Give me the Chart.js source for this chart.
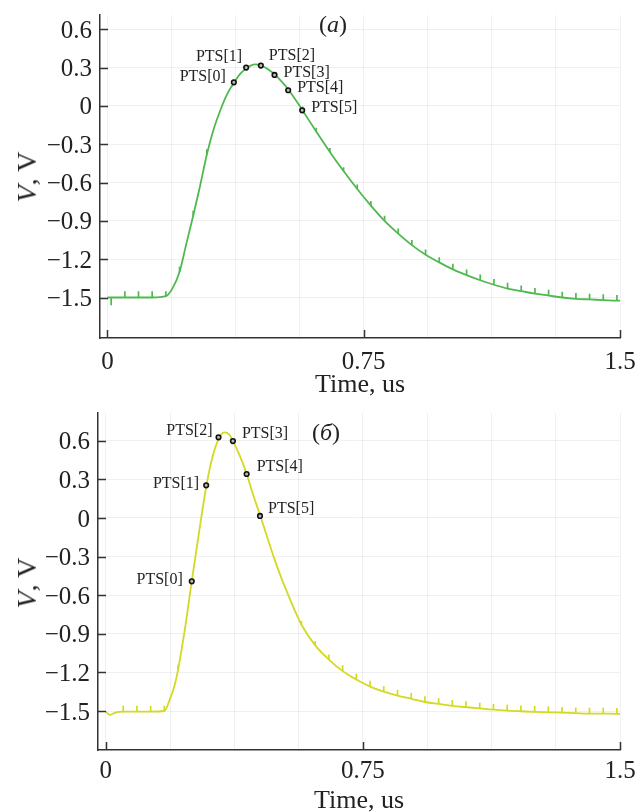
<!DOCTYPE html>
<html>
<head>
<meta charset="utf-8">
<title>PTS pulses</title>
<script src="https://cdn.jsdelivr.net/npm/chart.js@4.4.1/dist/chart.umd.min.js"></script>
<style>
  body { margin: 0; background: #fff; }
  #wrap { position: relative; width: 638px; height: 812px; overflow: hidden; }
  canvas { position: absolute; left: 0; }
  .lbl { position: absolute; font-family: 'Liberation Serif', serif; color: #222; white-space: nowrap; line-height: 1; }
  .ytitle { font-size: 28px; transform: translate(-50%, -50%) rotate(-90deg); }
  .panel { font-size: 24px; transform: translate(-50%, -50%); }
</style>
</head>
<body>
<div id="wrap">
  <canvas id="chartA" width="638" height="400" style="top:0"></canvas>
  <canvas id="chartB" width="638" height="412" style="top:400px"></canvas>
  <div class="lbl ytitle" style="left:27px;top:177px"><i>V</i>, V</div>
  <div class="lbl ytitle" style="left:27px;top:583px"><i>V</i>, V</div>
  <div class="lbl panel" style="left:333px;top:24px">(<i>а</i>)</div>
  <div class="lbl panel" style="left:326px;top:432px">(<i>б</i>)</div>
</div>

<script>
// ---- data ----
// panel (a), green trace
const timeA = [0, 0.011, 0.03, 0.051, 0.091, 0.131, 0.171, 0.19, 0.211, 0.23,
  0.251, 0.27, 0.291, 0.31, 0.331, 0.35, 0.371, 0.39, 0.411, 0.43,
  0.451, 0.47, 0.491, 0.51, 0.531, 0.55, 0.571, 0.611, 0.651, 0.691,
  0.731, 0.771, 0.811, 0.851, 0.891, 0.931, 0.971, 1.011, 1.051, 1.091,
  1.131, 1.171, 1.211, 1.251, 1.291, 1.331, 1.371, 1.411, 1.451, 1.491, 1.5];
const voltA = [-1.50, -1.50, -1.50, -1.50, -1.50, -1.50, -1.49, -1.43, -1.30, -1.09,
  -0.86, -0.64, -0.38, -0.19, -0.03, 0.09, 0.185, 0.255, 0.303, 0.326,
  0.316, 0.287, 0.243, 0.19, 0.123, 0.05, -0.035, -0.20, -0.36, -0.51,
  -0.65, -0.78, -0.90, -1.00, -1.09, -1.165, -1.225, -1.28, -1.325, -1.365,
  -1.40, -1.43, -1.45, -1.47, -1.485, -1.50, -1.51, -1.515, -1.52, -1.525, -1.525];
// little glitch spikes on the trace (V), 0 = none
const spikeA = [0, -0.06, 0, 0.05, 0.05, 0.05, 0.04, 0, 0.04, 0,
  0.04, 0, 0.04, 0, 0, 0, 0, 0, 0, 0,
  0, 0, 0, 0, 0, 0, 0.03, 0.03, 0.03, 0.03,
  0.035, 0.035, 0.04, 0.04, 0.04, 0.04, 0.04, 0.045, 0.045, 0.045,
  0.045, 0.045, 0.045, 0.045, 0.045, 0.045, 0.045, 0.045, 0.045, 0.045, 0];
const ptsTimeA = [0.370, 0.406, 0.449, 0.489, 0.529, 0.570];
const ptsVoltA = [0.185, 0.300, 0.316, 0.243, 0.123, -0.034];

// panel (б), yellow trace
const timeB = [0, 0.012, 0.03, 0.051, 0.091, 0.131, 0.171, 0.187, 0.201, 0.211,
  0.23, 0.251, 0.27, 0.291, 0.31, 0.331, 0.347, 0.36, 0.371, 0.39,
  0.411, 0.43, 0.451, 0.47, 0.491, 0.51, 0.531, 0.55, 0.571, 0.611,
  0.651, 0.691, 0.731, 0.771, 0.811, 0.851, 0.891, 0.931, 0.971, 1.011,
  1.051, 1.091, 1.131, 1.171, 1.211, 1.251, 1.291, 1.331, 1.371, 1.411,
  1.451, 1.491, 1.5];
const voltB = [-1.505, -1.53, -1.51, -1.505, -1.505, -1.505, -1.50, -1.41, -1.30, -1.18,
  -0.88, -0.49, -0.15, 0.21, 0.46, 0.625, 0.666, 0.65, 0.60, 0.49,
  0.342, 0.18, 0.016, -0.14, -0.31, -0.45, -0.59, -0.71, -0.83, -0.99,
  -1.10, -1.19, -1.255, -1.31, -1.35, -1.38, -1.405, -1.43, -1.445, -1.46,
  -1.47, -1.48, -1.49, -1.497, -1.502, -1.507, -1.51, -1.513, -1.517, -1.52,
  -1.52, -1.522, -1.522];
const spikeB = [0, 0, 0, 0.045, 0.045, 0.045, 0.04, 0, 0, 0.04,
  0, 0, 0, 0, 0, 0, 0, 0, 0, 0,
  0, 0, 0, 0, 0, 0, 0, 0, 0.03, 0.035,
  0.04, 0.045, 0.045, 0.045, 0.045, 0.045, 0.045, 0.045, 0.045, 0.045,
  0.045, 0.045, 0.045, 0.045, 0.045, 0.045, 0.045, 0.045, 0.045, 0.045,
  0.045, 0.045, 0];
const ptsTimeB = [0.251, 0.293, 0.329, 0.371, 0.411, 0.450];
const ptsVoltB = [-0.492, 0.254, 0.627, 0.598, 0.342, 0.016];

const ptsNames = ['PTS[0]', 'PTS[1]', 'PTS[2]', 'PTS[3]', 'PTS[4]', 'PTS[5]'];

// axis ticks
const yTicks = [-1.5, -1.2, -0.9, -0.6, -0.3, 0, 0.3, 0.6];
const xTicks = [0, 0.75, 1.5];
const xGrid = [0, 0.1875, 0.375, 0.5625, 0.75, 0.9375, 1.125, 1.3125, 1.5];

const FONT = "'Liberation Serif', 'Times New Roman', serif";
const INK = '#222';

//Short tick marks drawn inside the plot area
const innerTicks = {
  id: 'innerTicks',
  afterDraw(chart, args, opts) {
    const { ctx, chartArea, scales } = chart;
    ctx.save();
    ctx.strokeStyle = '#333';
    ctx.lineWidth = 1.5;
    ctx.beginPath();
    opts.yValues.forEach(v => {
      const y = Math.round(scales.y.getPixelForValue(v)) + 0.5;
      ctx.moveTo(chartArea.left, y);
      ctx.lineTo(chartArea.left + 8, y);
    });
    opts.xValues.forEach(v => {
      const x = Math.round(scales.x.getPixelForValue(v)) + 0.5;
      ctx.moveTo(x, chartArea.bottom);
      ctx.lineTo(x, chartArea.bottom - 8);
    });
    ctx.stroke();
    ctx.restore();
  }
};

//PTS[i] captions next to the marker points
const ptsLabels = {
  id: 'ptsLabels',
  afterDatasetsDraw(chart, args, opts) {
    const ctx = chart.ctx;
    const meta = chart.getDatasetMeta(0);
    ctx.save();
    ctx.font = '16px ' + FONT;
    ctx.fillStyle = INK;
    ctx.textBaseline = 'middle';
    meta.data.forEach((pt, i) => {
      const [dx, dy, align] = opts.offsets[i];
      ctx.textAlign = align;
      ctx.fillText(opts.names[i], pt.x + dx, pt.y + dy);
    });
    ctx.restore();
  }
};

function curvePoints(t, v) {
  return t.map((x, i) => ({ x: x, y: v[i] }));
}

function spikePoints(t, v, s) {
  const out = [];
  t.forEach((x, i) => {
    if (s[i] !== 0) {
      out.push({ x: x, y: v[i] }, { x: x, y: v[i] + s[i] }, { x: x, y: null });
    }
  });
  return out;
}

function fmtY(v) {
  if (v === 0) return '0';
  return (v < 0 ? '\u2212' : '') + Math.abs(v).toFixed(1);
}

function createChart(id, cfg) {
  const ctx = document.getElementById(id).getContext('2d');
  /* global Chart */
  return new Chart(ctx, {
    type: 'scatter',
    data: {
      datasets: [
        {
          data: curvePoints(cfg.ptsT, cfg.ptsV),
          showLine: false,
          pointRadius: 2.3,
          pointBorderWidth: 1.6,
          pointBorderColor: '#111',
          pointBackgroundColor: '#bbb'
        },
        {
          data: spikePoints(cfg.t, cfg.v, cfg.s),
          showLine: true,
          spanGaps: false,
          borderColor: cfg.color,
          borderWidth: 1.7,
          pointRadius: 0,
          tension: 0
        },
        {
          data: curvePoints(cfg.t, cfg.v),
          showLine: true,
          borderColor: cfg.color,
          borderWidth: 1.8,
          pointRadius: 0,
          cubicInterpolationMode: 'monotone'
        }
      ]
    },
    options: {
      responsive: false,
      animation: false,
      events: [],
      layout: { padding: { left: 0, right: 18, top: cfg.top, bottom: 0 } },
      plugins: {
        legend: { display: false },
        tooltip: { enabled: false },
        innerTicks: { xValues: xTicks, yValues: yTicks },
        ptsLabels: { names: ptsNames, offsets: cfg.offsets }
      },
      scales: {
        x: {
          type: 'linear',
          min: cfg.xMin,
          max: 1.5,
          afterBuildTicks: s => { s.ticks = xGrid.map(v => ({ value: v })); },
          afterFit: s => { s.height = 62; s.paddingLeft = 0; s.paddingRight = 0; },
          ticks: {
            autoSkip: false,
            maxRotation: 0,
            padding: cfg.xPad,
            color: INK,
            font: { family: FONT, size: 25 },
            callback: v => (xTicks.includes(v) ? String(v) : '')
          },
          grid: { color: 'rgba(0,0,0,0.06)', drawTicks: false },
          border: { color: '#333', width: 1.5 },
          title: {
            display: true,
            text: 'Time, us',
            color: INK,
            font: { family: FONT, size: 26, lineHeight: cfg.titleLH },
            padding: { top: 0, bottom: cfg.titlePad }
          }
        },
        y: {
          min: cfg.yMin,
          max: cfg.yMax,
          afterBuildTicks: s => { s.ticks = yTicks.map(v => ({ value: v })); },
          afterFit: s => { s.width = cfg.yWidth; s.paddingTop = 0; s.paddingBottom = 0; },
          ticks: {
            padding: 8,
            labelOffset: 2,
            color: INK,
            font: { family: FONT, size: 25 },
            callback: v => fmtY(v)
          },
          grid: { color: 'rgba(0,0,0,0.06)', drawTicks: false },
          border: { color: '#333', width: 1.5 }
        }
      }
    },
    plugins: [innerTicks, ptsLabels]
  });
}

function initializeCharts() {
  createChart('chartA', {
    t: timeA, v: voltA, s: spikeA, ptsT: ptsTimeA, ptsV: ptsVoltA,
    color: '#4fb94f',
    top: 15, yWidth: 100, xMin: -0.0217, yMin: -1.817, yMax: 0.712,
    xPad: 9, titlePad: 2, titleLH: 1,
    offsets: [[-8, -6, 'right'], [-4, -11, 'right'], [8, -10, 'left'],
              [9, -2, 'left'], [9, -2, 'left'], [9, -2, 'left']]
  });
  createChart('chartB', {
    t: timeB, v: voltB, s: spikeB, ptsT: ptsTimeB, ptsV: ptsVoltB,
    color: '#d2da22',
    top: 13, yWidth: 98, xMin: -0.0225, yMin: -1.803, yMax: 0.816,
    xPad: 6, titlePad: 0, titleLH: 0.8,
    offsets: [[-9, -2, 'right'], [-7, -2, 'right'], [-6, -7, 'right'],
              [9, -7, 'left'], [10, -7, 'left'], [8, -7, 'left']]
  });
}

document.addEventListener('DOMContentLoaded', initializeCharts);
</script>
</body>
</html>
